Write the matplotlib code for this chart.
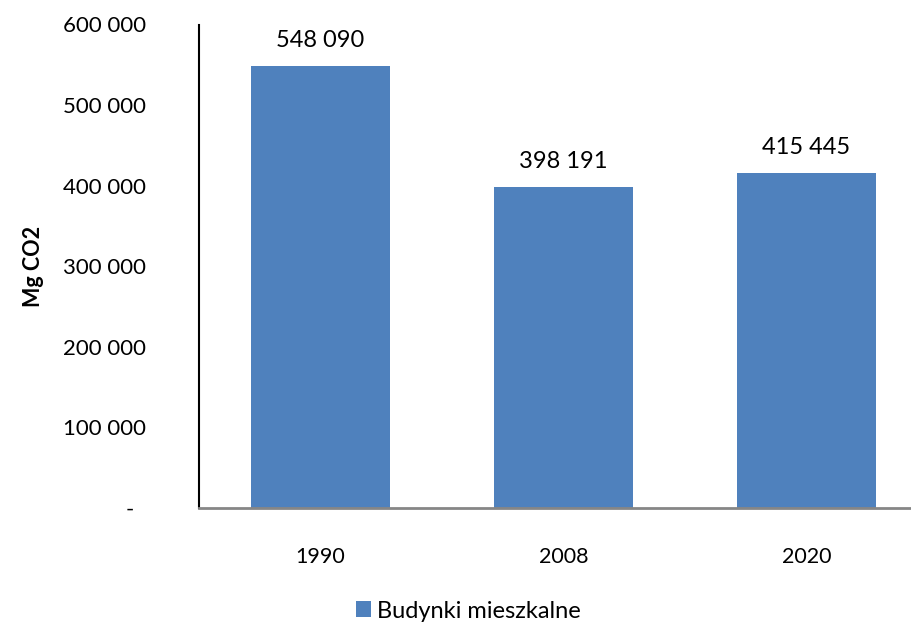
import matplotlib.pyplot as plt
from matplotlib.ticker import FuncFormatter

plt.rcParams['font.family'] = ['Lato', 'DejaVu Sans']

years = ['1990', '2008', '2020']
values = [548090, 398191, 415445]
series_name = 'Budynki mieszkalne'
bar_color = '#4F81BD'


def fmt(v):
    return f'{int(v):,}'.replace(',', ' ')


fig = plt.figure(figsize=(9.12, 6.27), dpi=100)
# the original is cropped on the right, so the axes run past the edge
ax = fig.add_axes([199 / 912, 1 - 508 / 627, 729 / 912, 483.5 / 627])

x = range(len(years))
bars = ax.bar(x, values, width=0.57, color=bar_color, label=series_name)

for b, v in zip(bars, values):
    ax.annotate(fmt(v), (b.get_x() + b.get_width() / 2, v),
                xytext=(0, 11), textcoords='offset points',
                ha='center', va='bottom', fontsize=17)

ax.set_xlim(-0.5, len(years) - 0.5)
ax.set_ylim(0, 600000)
ax.set_yticks(range(0, 600001, 100000))
ax.yaxis.set_major_formatter(FuncFormatter(lambda v, p: '-  ' if v == 0 else fmt(v)))
ax.set_xticks(list(x))
ax.set_xticklabels(years)
ax.tick_params(axis='y', length=0, pad=38, labelsize=16)
ax.tick_params(axis='x', length=0, pad=28, labelsize=15.5)

for s in ['top', 'right']:
    ax.spines[s].set_visible(False)
ax.spines['left'].set_color('black')
ax.spines['left'].set_linewidth(1.5)
ax.spines['bottom'].set_color('#868686')
ax.spines['bottom'].set_linewidth(2)

ax.set_ylabel('Mg CO2', fontsize=15.5, fontweight='bold', labelpad=14)

fig.legend(loc='center', bbox_to_anchor=(468 / 912, 1 - 611 / 627), frameon=False,
           fontsize=17, handlelength=0.65, handleheight=0.65, handletextpad=0.25)

fig.savefig('out.png', dpi=100)
